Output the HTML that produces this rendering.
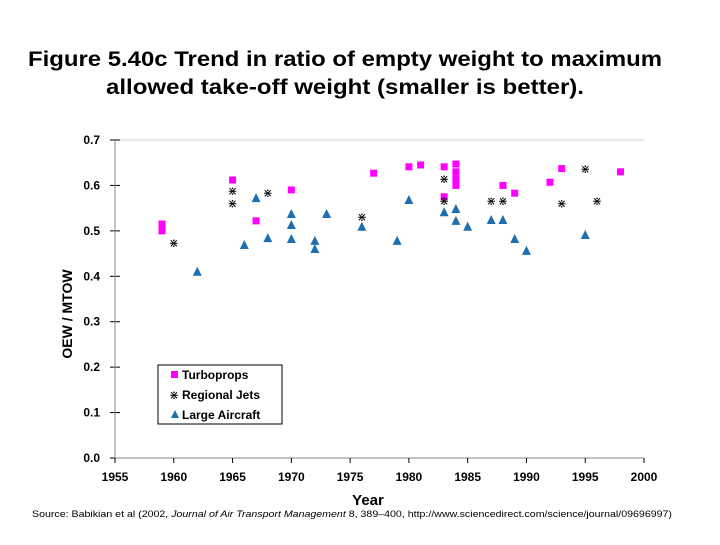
<!DOCTYPE html>
<html><head><meta charset="utf-8"><style>
body{margin:0;background:#fff;width:720px;height:540px;overflow:hidden;font-family:"Liberation Sans",Arial,sans-serif}
</style></head><body>
<svg width="720" height="540" xmlns="http://www.w3.org/2000/svg">
<text x="28" y="66" textLength="634" lengthAdjust="spacingAndGlyphs" font-size="21" font-weight="bold" fill="#000">Figure 5.40c Trend in ratio of empty weight to maximum</text>
<text x="106" y="94" textLength="478" lengthAdjust="spacingAndGlyphs" font-size="21" font-weight="bold" fill="#000">allowed take-off weight (smaller is better).</text>
<g id="grid"></g><g id="axes"></g><g id="marks"></g>
<text x="368" y="505" text-anchor="middle" font-size="15" font-weight="bold">Year</text>
<text transform="translate(72,314) rotate(-90)" text-anchor="middle" font-size="14" font-weight="bold">OEW / MTOW</text>
<text x="32" y="517" textLength="640" lengthAdjust="spacingAndGlyphs" font-size="9.5">Source: Babikian et al (2002, <tspan font-style="italic">Journal of Air Transport Management</tspan> 8, 389–400, http://www.sciencedirect.com/science/journal/09696997)</text>
<g>
<rect x="158" y="365" width="124" height="59" fill="#fff" stroke="#000" stroke-width="1"/>
<rect x="171" y="371" width="7" height="7" fill="#ff00ff"/>
<text x="182" y="379" font-size="12" font-weight="bold">Turboprops</text>
<text x="174" y="399" font-size="12" text-anchor="middle">⋇</text>
<text x="182" y="399" font-size="12" font-weight="bold">Regional Jets</text>
<polygon points="175,410 171,418 179,418" fill="#1f6fb0"/>
<text x="182" y="419" font-size="12" font-weight="bold">Large Aircraft</text>
</g>
</svg>
<script>
const xTicks=[1955,1960,1965,1970,1975,1980,1985,1990,1995,2000];
const yTicks=[0,0.1,0.2,0.3,0.4,0.5,0.6,0.7];
const turboYears=[1959,1959,1965,1967,1970,1977,1980,1981,1983,1983,1984,1984,1984,1984,1988,1989,1992,1993,1998];
const turboVals=[0.50,0.515,0.612,0.522,0.59,0.627,0.641,0.645,0.641,0.575,0.647,0.63,0.615,0.60,0.60,0.583,0.607,0.637,0.63];
const rjYears=[1960,1965,1965,1968,1976,1983,1983,1987,1988,1993,1995,1996];
const rjVals=[0.473,0.588,0.56,0.583,0.53,0.614,0.566,0.566,0.566,0.56,0.636,0.566];
const laYears=[1962,1966,1967,1968,1970,1970,1970,1972,1972,1973,1976,1979,1980,1983,1984,1984,1985,1987,1988,1989,1990,1995];
const laVals=[0.41,0.469,0.572,0.484,0.537,0.513,0.482,0.478,0.46,0.537,0.509,0.478,0.568,0.541,0.548,0.522,0.509,0.524,0.524,0.482,0.456,0.491];
const NS="http://www.w3.org/2000/svg";
const X=v=>115+(v-1955)*(644-115)/45;
const Y=v=>458-v*(458-140)/0.7;
function mk(t,a,p){const e=document.createElementNS(NS,t);for(const k in a)e.setAttribute(k,a[k]);p.appendChild(e);return e;}
const g=document.getElementById('grid'),ax=document.getElementById('axes'),m=document.getElementById('marks');
yTicks.forEach(v=>{
 if(v>=0.7){const l=mk('line',{x1:115,x2:644,y1:Y(v),y2:Y(v),stroke:'#d0d0d0','stroke-width':1},g);
 
 }
 mk('line',{x1:110,x2:120,y1:Y(v),y2:Y(v),stroke:'#000'},ax);
 const t=mk('text',{x:100,y:Y(v)+4,'text-anchor':'end','font-size':12,'font-weight':'bold'},ax);t.textContent=v.toFixed(1);
 
 
});
mk('line',{x1:115,x2:115,y1:140,y2:458,stroke:'#888'},ax);
mk('line',{x1:115,x2:644,y1:458,y2:458,stroke:'#888'},ax);
xTicks.forEach(v=>{
 mk('line',{x1:X(v),x2:X(v),y1:458,y2:463,stroke:'#000'},ax);
 const t=mk('text',{x:X(v),y:481,'text-anchor':'middle','font-size':12,'font-weight':'bold'},ax);t.textContent=v;
 
 
});
turboYears.forEach((yr,i)=>{const r=mk('rect',{x:X(yr)-3.5,y:Y(turboVals[i])-3.5,width:7,height:7,fill:'#ff00ff'},m);
 
 });
rjYears.forEach((yr,i)=>{const t=mk('text',{x:X(yr),y:Y(rjVals[i])+4,'text-anchor':'middle','font-size':12},m);t.textContent='⋇';
 
 });
laYears.forEach((yr,i)=>{const x=X(yr),y=Y(laVals[i]);const p=mk('polygon',{points:`${x},${y-5} ${x-4.5},${y+4} ${x+4.5},${y+4}`,fill:'#1f6fb0'},m);
 
 });
</script>
</body></html>
